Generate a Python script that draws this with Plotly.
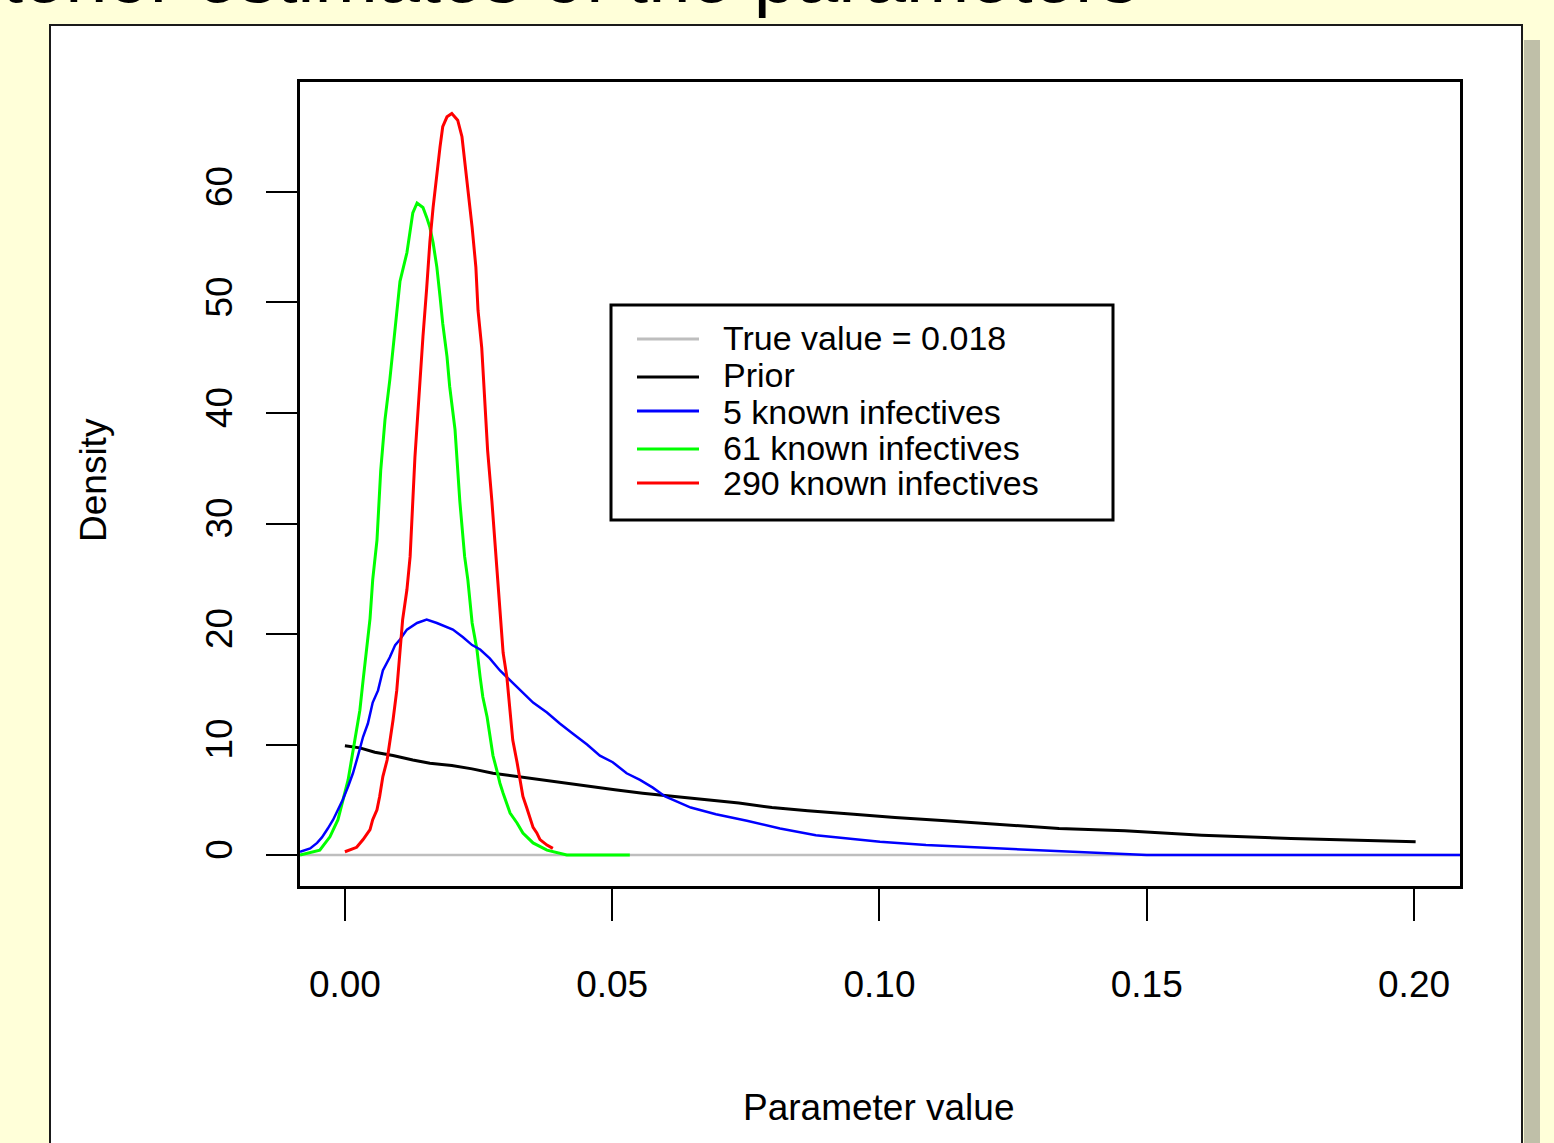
import plotly.graph_objects as go

# ---------------- data ----------------
x_tick_vals = [0.00, 0.05, 0.10, 0.15, 0.20]
x_tick_labels = ["0.00", "0.05", "0.10", "0.15", "0.20"]
y_tick_vals = [0, 10, 20, 30, 40, 50, 60]
y_tick_labels = ["0", "10", "20", "30", "40", "50", "60"]

series_names = ["True value = 0.018", "Prior", "5 known infectives",
                "61 known infectives", "290 known infectives"]
series_colors = ["#BEBEBE", "#000000", "#0000FF", "#00FF00", "#FF0000"]

true_x = [-0.0084, 0.2086]
true_y = [0, 0]

prior_x = [0.0000, 0.0028, 0.0056, 0.0090, 0.0127, 0.0159, 0.0200, 0.0238, 0.0277, 0.0322,
           0.0365, 0.0408, 0.0455, 0.0505, 0.0557, 0.0614, 0.0675, 0.0737, 0.0799, 0.0866,
           0.0952, 0.1029, 0.1124, 0.1220, 0.1336, 0.1459, 0.1603, 0.1770, 0.1972, 0.2003]
prior_y = [9.9, 9.7, 9.3, 9.0, 8.6, 8.3, 8.1, 7.8, 7.4, 7.1,
           6.8, 6.5, 6.2, 5.9, 5.6, 5.3, 5.0, 4.7, 4.3, 4.0,
           3.7, 3.4, 3.1, 2.8, 2.4, 2.2, 1.8, 1.5, 1.2, 1.2]

k5_x = [-0.0084, -0.0065, -0.0052, -0.0043, -0.0032, -0.0022, -0.0013, -0.0004, 0.0006, 0.0015,
        0.0024, 0.0034, 0.0043, 0.0052, 0.0062, 0.0071, 0.0084, 0.0094, 0.0103, 0.0116,
        0.0135, 0.0153, 0.0172, 0.0191, 0.0202, 0.0221, 0.0238, 0.0253, 0.0271, 0.0290,
        0.0309, 0.0327, 0.0352, 0.0378, 0.0402, 0.0426, 0.0453, 0.0477, 0.0501, 0.0527,
        0.0552, 0.0576, 0.0599, 0.0647, 0.0694, 0.0752, 0.0814, 0.0881, 0.0939, 0.1001,
        0.1087, 0.1220, 0.1356, 0.1500, 0.2086]
k5_y = [0.3, 0.6, 1.1, 1.6, 2.4, 3.2, 4.1, 5.0, 6.2, 7.4,
        8.9, 10.7, 11.9, 13.8, 14.9, 16.7, 17.9, 19.0, 19.5, 20.4,
        21.0, 21.3, 21.0, 20.6, 20.4, 19.7, 19.0, 18.6, 17.8, 16.7,
        15.8, 14.9, 13.8, 12.9, 11.9, 11.0, 10.0, 9.0, 8.4, 7.4,
        6.8, 6.1, 5.3, 4.3, 3.7, 3.1, 2.4, 1.8, 1.5, 1.2,
        0.9, 0.6, 0.3, 0.0, 0.0]

k61_x = [-0.0084, -0.0047, -0.0028, -0.0013, 0.0006, 0.0019, 0.0028, 0.0034, 0.0041, 0.0047,
         0.0052, 0.0060, 0.0067, 0.0075, 0.0084, 0.0090, 0.0097, 0.0103, 0.0116, 0.0122,
         0.0127, 0.0135, 0.0146, 0.0153, 0.0159, 0.0165, 0.0172, 0.0178, 0.0183, 0.0191,
         0.0196, 0.0206, 0.0215, 0.0224, 0.0230, 0.0238, 0.0247, 0.0253, 0.0258, 0.0266,
         0.0271, 0.0277, 0.0284, 0.0290, 0.0296, 0.0303, 0.0309, 0.0322, 0.0333, 0.0352,
         0.0378, 0.0415, 0.0533]
k61_y = [0, 0.45, 1.65, 3.2, 6.8, 10.7, 13.1, 15.8, 18.6, 21.4,
         24.9, 28.5, 34.8, 39.4, 43.0, 46.0, 49.3, 51.9, 54.5, 56.3,
         58.1, 59.0, 58.6, 57.7, 56.8, 55.4, 53.2, 50.5, 48.1, 45.1,
         42.4, 38.5, 32.0, 27.0, 24.9, 21.0, 18.6, 16.1, 14.3, 12.5,
         11.0, 9.0, 7.7, 6.5, 5.6, 4.7, 3.8, 2.9, 2.0, 1.1,
         0.45, 0, 0]

k290_x = [0.0000, 0.0022, 0.0034, 0.0047, 0.0052, 0.0060, 0.0065, 0.0071, 0.0079, 0.0084,
          0.0090, 0.0097, 0.0103, 0.0108, 0.0116, 0.0122, 0.0131, 0.0140, 0.0146, 0.0153,
          0.0159, 0.0165, 0.0172, 0.0178, 0.0183, 0.0191, 0.0200, 0.0206, 0.0211, 0.0219,
          0.0224, 0.0230, 0.0238, 0.0245, 0.0249, 0.0256, 0.0262, 0.0267, 0.0275, 0.0286,
          0.0290, 0.0296, 0.0303, 0.0309, 0.0314, 0.0322, 0.0327, 0.0333, 0.0340, 0.0346,
          0.0352, 0.0359, 0.0365, 0.0378, 0.0389]
k290_y = [0.3, 0.7, 1.4, 2.3, 3.2, 4.1, 5.3, 7.1, 8.6, 10.1,
          12.2, 14.9, 18.3, 21.3, 24.0, 27.0, 36.0, 42.7, 46.9, 51.3,
          55.5, 58.6, 61.8, 64.1, 65.9, 66.8, 67.1, 66.8, 66.5, 65.0,
          62.9, 60.4, 56.8, 53.2, 49.3, 45.9, 41.0, 36.6, 32.0, 24.9,
          21.5, 18.3, 16.1, 12.8, 10.4, 8.4, 7.1, 5.3, 4.3, 3.3,
          2.5, 2.0, 1.4, 0.9, 0.6]

x_range = [-0.0084, 0.2086]
y_range = [-2.8, 69.95]

# ---------------- layout geometry (pixels) ----------------
W, H = 1554, 1143
L, R, T, B = 300, 1460, 82, 886


def xp(px):
    return (px - L) / (R - L)


def yp(py):
    return (B - py) / (B - T)


FONT = "Liberation Sans, Arial, sans-serif"
FS = 37
LEG_FS = 34

fig = go.Figure()
series = [(true_x, true_y, 2.5), (prior_x, prior_y, 3), (k61_x, k61_y, 3),
          (k5_x, k5_y, 2.5), (k290_x, k290_y, 3)]
order = [0, 1, 3, 2, 4]
for (sx, sy, w), idx in zip(series, order):
    fig.add_trace(go.Scatter(x=sx, y=sy, mode="lines", name=series_names[idx],
                             line=dict(color=series_colors[idx], width=w),
                             showlegend=False, hoverinfo="skip"))

shapes = []
# slide panel shadow + white panel
shapes.append(dict(type="rect", xref="paper", yref="paper", layer="below",
                   x0=xp(1524), x1=xp(1540), y0=yp(1200), y1=yp(40),
                   fillcolor="#BFBFA8", line=dict(width=0)))
shapes.append(dict(type="rect", xref="paper", yref="paper", layer="below",
                   x0=xp(50), x1=xp(1522), y0=yp(1200), y1=yp(25),
                   fillcolor="white", line=dict(color="#1a1a1a", width=2)))
# legend box
shapes.append(dict(type="rect", xref="paper", yref="paper", layer="above",
                   x0=xp(611), x1=xp(1113), y0=yp(520), y1=yp(305),
                   fillcolor="white", line=dict(color="black", width=3)))

annotations = []
legend_line_y = [339, 377, 411, 449, 483]
legend_text_y = [338, 375, 412, 447.5, 482.5]
for i, name in enumerate(series_names):
    shapes.append(dict(type="line", xref="paper", yref="paper", layer="above",
                       x0=xp(637), x1=xp(699), y0=yp(legend_line_y[i]), y1=yp(legend_line_y[i]),
                       line=dict(color=series_colors[i], width=3)))
    annotations.append(dict(xref="paper", yref="paper", x=xp(721), y=yp(legend_text_y[i]),
                            xanchor="left", yanchor="middle", text=name, showarrow=False,
                            font=dict(family=FONT, size=LEG_FS, color="black")))

# axis titles
annotations.append(dict(xref="paper", yref="paper", x=xp(878), y=yp(1107),
                        xanchor="center", yanchor="middle", text="Parameter value",
                        showarrow=False, font=dict(family=FONT, size=FS, color="black")))
annotations.append(dict(xref="paper", yref="paper", x=xp(93), y=yp(480),
                        xanchor="center", yanchor="middle", text="Density", textangle=-90,
                        showarrow=False, font=dict(family=FONT, size=FS, color="black")))
# cut-off slide title at the very top
annotations.append(dict(xref="paper", yref="paper", x=xp(1140), y=yp(20),
                        xanchor="right", yanchor="bottom",
                        text="Posterior estimates of the parameters",
                        showarrow=False,
                        font=dict(family=FONT, size=76, color="black")))

fig.update_layout(
    width=W, height=H,
    margin=dict(l=L, r=W - R, t=T, b=H - B, pad=0),
    paper_bgcolor="#FFFFD9",
    plot_bgcolor="white",
    shapes=shapes,
    annotations=annotations,
    showlegend=False,
)

fig.update_xaxes(range=x_range, tickmode="array", tickvals=x_tick_vals, ticktext=x_tick_labels,
                 showgrid=False, zeroline=False, showline=True, mirror=True,
                 linecolor="black", linewidth=3, ticks="outside", ticklen=32, tickwidth=2,
                 tickcolor="black", ticklabelstandoff=32,
                 tickfont=dict(family=FONT, size=FS, color="black"))
fig.update_yaxes(range=y_range, tickmode="array", tickvals=y_tick_vals, ticktext=y_tick_labels,
                 showgrid=False, zeroline=False, showline=True, mirror=True,
                 linecolor="black", linewidth=3, ticks="outside", ticklen=31, tickwidth=2,
                 tickcolor="black", tickangle=-90, ticklabelstandoff=19,
                 tickfont=dict(family=FONT, size=FS, color="black"))

fig.write_html("out.html", config={"displayModeBar": False},
               post_script="document.body.style.margin='0';document.body.style.overflow='hidden';")
